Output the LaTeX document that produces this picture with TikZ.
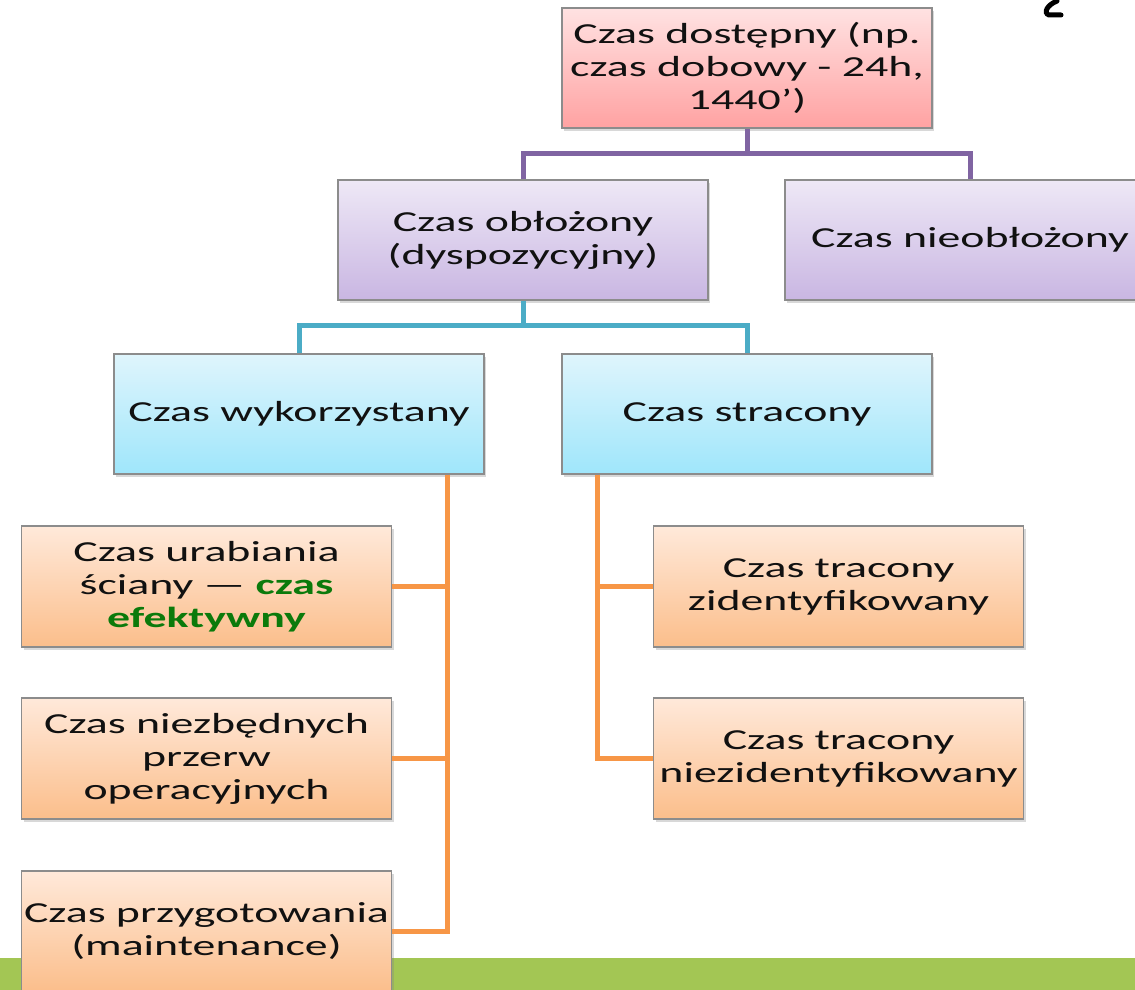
\documentclass[tikz,border=0pt]{standalone}
\usepackage{fontspec}
\usepackage{graphicx}
\setmainfont{Carlito}
\usetikzlibrary{shadows}
\definecolor{pinkT}{HTML}{FFE2E2}
\definecolor{pinkB}{HTML}{FFA2A2}
\definecolor{purT}{HTML}{EEE8F6}
\definecolor{purB}{HTML}{C9B6E2}
\definecolor{cyaT}{HTML}{DFF5FC}
\definecolor{cyaB}{HTML}{9FE6FB}
\definecolor{oraT}{HTML}{FFE9DA}
\definecolor{oraB}{HTML}{FBBE8B}
\definecolor{pLine}{HTML}{8064A2}
\definecolor{cLine}{HTML}{4BACC6}
\definecolor{oLine}{HTML}{F79646}
\definecolor{gBar}{HTML}{A3C654}
\definecolor{effGreen}{HTML}{0B7A0B}
\definecolor{txt}{HTML}{111111}
\newcommand{\sx}[1]{\scalebox{1.58}[1]{#1}}
\newcommand{\eff}[1]{{\bfseries\color{effGreen}#1}}
\begin{document}
\begin{tikzpicture}[x=1pt,y=-1pt,
  box/.style={draw=black!45, line width=1.2pt, minimum width=370pt, minimum height=120pt,
    inner sep=0pt, align=center, text=txt, font=\fontsize{29}{33}\selectfont,
    drop shadow={shadow xshift=2pt,shadow yshift=-3pt,opacity=0.3}},
  pinkbox/.style={box, top color=pinkT, bottom color=pinkB},
  purbox/.style={box, top color=purT, bottom color=purB},
  cyabox/.style={box, top color=cyaT, bottom color=cyaB},
  orabox/.style={box, top color=oraT, bottom color=oraB, minimum height=121pt},
  pline/.style={draw=pLine, line width=5pt},
  cline/.style={draw=cLine, line width=5pt},
  oline/.style={draw=oLine, line width=5pt}]
\useasboundingbox (0,0) rectangle (1135,990);
\clip (0,0) rectangle (1135,990);
\fill[white] (0,0) rectangle (1135,990);
\fill[gBar] (0,958) rectangle (1135,990);

\node[pinkbox] (top) at (747,68) {\sx{Czas dostępny (np.}\\\sx{czas dobowy - 24h,}\\\sx{1440’)}};
\node[purbox] (obl) at (523,240) {\sx{Czas obłożony}\\\sx{(dyspozycyjny)}};
\node[purbox] (nieobl) at (970,240) {\sx{Czas nieobłożony}};
\node[cyabox] (wyk) at (299,414) {\sx{Czas wykorzystany}};
\node[cyabox] (str) at (747,414) {\sx{Czas stracony}};
\node[orabox] (urab) at (206.5,586.5) {\sx{Czas urabiania}\\\sx{ściany — \eff{czas}}\\\sx{\eff{efektywny}}};
\node[orabox] (niezb) at (206.5,758.5) {\sx{Czas niezbędnych}\\\sx{przerw}\\\sx{operacyjnych}};
\node[orabox] (przyg) at (206.5,931.5) {\sx{Czas przygotowania}\\\sx{(maintenance)}};
\node[orabox] (zid) at (838.5,586.5) {\sx{Czas tracony}\\\sx{zidentyfikowany}};
\node[orabox] (niezid) at (838.5,758.5) {\sx{Czas tracony}\\\sx{niezidentyfikowany}};

% purple connectors
\draw[pline] (top.south) -- ([yshift=-25pt]top.south);
\draw[pline] (obl.north) |- ([yshift=-25pt]top.south) -| (nieobl.north);
% cyan connectors
\draw[cline] (obl.south) -- ([yshift=-25pt]obl.south);
\draw[cline] (wyk.north) |- ([yshift=-25pt]obl.south) -| (str.north);
% orange left
\coordinate (ox) at (447,0);
\draw[oline] (wyk.south -| ox) |- (przyg.east);
\draw[oline] (urab.east) -- (urab.east -| ox);
\draw[oline] (niezb.east) -- (niezb.east -| ox);
% orange right
\coordinate (sx) at (597,0);
\draw[oline] (str.south -| sx) |- (niezid.west);
\draw[oline] (zid.west) -- (zid.west -| sx);

% partial glyph at top right
\draw[line width=5pt, line cap=round] (1057,1) .. controls (1047,5) and (1043,13) .. (1049,15) -- (1061,15);
\end{tikzpicture}
\end{document}
